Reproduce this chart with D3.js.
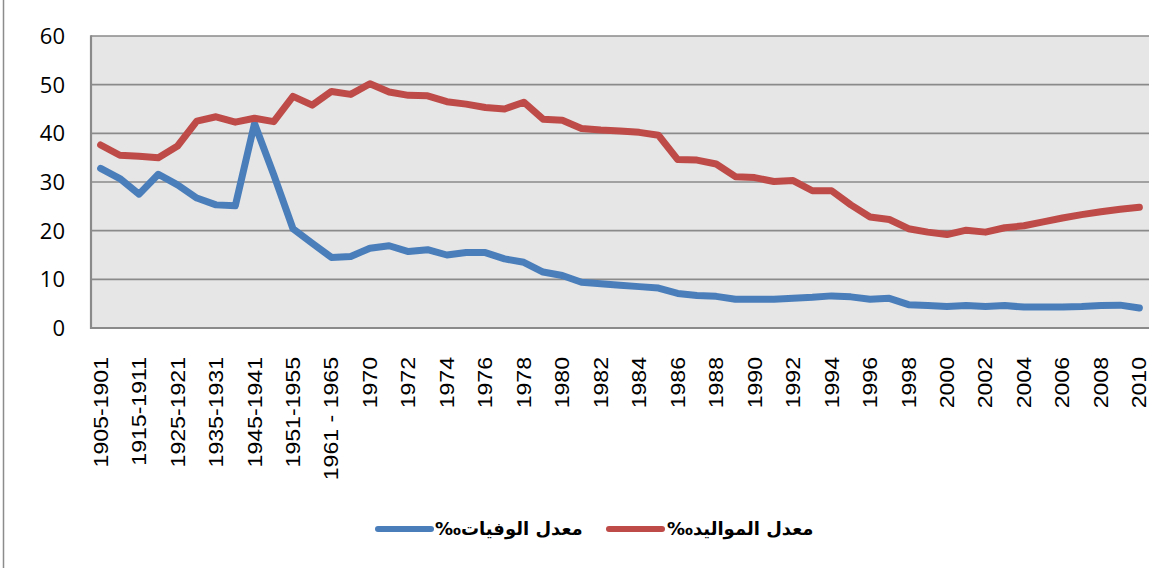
<!DOCTYPE html>
<html>
<head>
<meta charset="utf-8">
<script src="https://cdn.jsdelivr.net/npm/d3@7"></script>
<style>
  body { margin: 0; background: #fff; }
</style>
</head>
<body>
<svg id="chart" width="1161" height="568"></svg>
<script>
// categories (only every other one gets a label on the axis)
const periods = [
  "1905-1901", "1910-1906", "1915-1911", "1920-1916", "1925-1921", "1930-1926",
  "1935-1931", "1940-1936", "1945-1941", "1950-1946", "1951-1955", "1956-1960",
  "1961 - 1965", "1966-1969",
  "1970", "1971", "1972", "1973", "1974", "1975", "1976", "1977", "1978", "1979",
  "1980", "1981", "1982", "1983", "1984", "1985", "1986", "1987", "1988", "1989",
  "1990", "1991", "1992", "1993", "1994", "1995", "1996", "1997", "1998", "1999",
  "2000", "2001", "2002", "2003", "2004", "2005", "2006", "2007", "2008", "2009", "2010"
];

// birth rate (per mille)
const birthRate = [
  37.6, 35.5, 35.3, 35.0, 37.4, 42.5, 43.4, 42.3, 43.1, 42.4, 47.6, 45.8, 48.6, 48.0,
  50.2, 48.5, 47.8, 47.7, 46.5, 46.0, 45.3, 45.0, 46.4, 42.9, 42.7, 41.0, 40.7, 40.5,
  40.2, 39.6, 34.6, 34.5, 33.7, 31.1, 30.9, 30.1, 30.3, 28.2, 28.2, 25.3, 22.8, 22.3,
  20.4, 19.7, 19.2, 20.1, 19.7, 20.6, 21.0, 21.8, 22.6, 23.3, 23.9, 24.4, 24.8
];

// death rate (per mille)
const deathRate = [
  32.8, 30.7, 27.5, 31.6, 29.4, 26.7, 25.3, 25.1, 42.0, 31.5, 20.4, 17.4, 14.5, 14.7,
  16.4, 16.9, 15.7, 16.1, 15.0, 15.5, 15.5, 14.2, 13.5, 11.5, 10.8, 9.4, 9.1, 8.8,
  8.5, 8.2, 7.1, 6.7, 6.5, 5.9, 5.9, 5.9, 6.1, 6.3, 6.6, 6.4, 5.9, 6.1,
  4.8, 4.6, 4.4, 4.6, 4.4, 4.6, 4.3, 4.3, 4.3, 4.4, 4.6, 4.7, 4.1
];

const yTicks = [0, 10, 20, 30, 40, 50, 60];

const seriesNames = ["معدل الوفيات‰", "معدل المواليد‰"];
const seriesColors = ["#4a7ebb", "#be4b48"];

const svg = d3.select("#chart");
const margin = { left: 91, right: 12, top: 36, bottom: 240 };
const W = 1161, H = 568;

const x = d3.scaleBand()
  .domain(periods)
  .range([margin.left, W - margin.right]);

const y = d3.scaleLinear()
  .domain([0, 60])
  .range([H - margin.bottom, margin.top]);

// outer chart frame (only the left edge is visible)
svg.append("line")
  .attr("x1", 3.5).attr("x2", 3.5)
  .attr("y1", 0).attr("y2", H)
  .attr("stroke", "#8c8c8c")
  .attr("stroke-width", 1.5);

// plot background
svg.append("rect")
  .attr("x", x.range()[0])
  .attr("y", y(60))
  .attr("width", x.range()[1] - x.range()[0])
  .attr("height", y(0) - y(60))
  .attr("fill", "#e6e6e6");

// horizontal gridlines
svg.append("g")
  .selectAll("line")
  .data(yTicks)
  .join("line")
  .attr("x1", x.range()[0])
  .attr("x2", x.range()[1])
  .attr("y1", d => y(d))
  .attr("y2", d => y(d))
  .attr("stroke", "#8a8a8a")
  .attr("stroke-width", d => d === 0 ? 2.2 : 1.6);

// left axis line
svg.append("line")
  .attr("x1", x.range()[0]).attr("x2", x.range()[0])
  .attr("y1", y(60) - 0.8).attr("y2", y(0) + 1)
  .attr("stroke", "#8a8a8a")
  .attr("stroke-width", 2.2);

// y tick labels
svg.append("g")
  .selectAll("text")
  .data(yTicks)
  .join("text")
  .attr("x", 65)
  .attr("y", d => y(d))
  .attr("dy", "0.36em")
  .attr("text-anchor", "end")
  .style("font", "22px 'Open Sans', sans-serif")
  .attr("fill", "#000")
  .text(d => d);

// x tick labels, rotated (slightly stretched along the text like the original)
svg.append("g")
  .selectAll("text")
  .data(periods.filter((d, i) => i % 2 === 0))
  .join("text")
  .attr("transform", d => `translate(${x(d) + x.bandwidth() / 2 + 7},357) rotate(-90) scale(1.1,1)`)
  .attr("text-anchor", "end")
  .style("font", "21px 'Liberation Sans', Arial, sans-serif")
  .attr("fill", "#000")
  .text(d => d);

// lines
const line = d3.line()
  .x((d, i) => x(periods[i]) + x.bandwidth() / 2)
  .y(d => y(d));

[deathRate, birthRate].forEach((vals, k) => {
  svg.append("path")
    .datum(vals)
    .attr("fill", "none")
    .attr("stroke", seriesColors[k])
    .attr("stroke-width", 7)
    .attr("stroke-linejoin", "round")
    .attr("stroke-linecap", "round")
    .attr("d", line);
});

// legend
const legendItems = [
  { name: seriesNames[0], color: seriesColors[0], x0: 378, x1: 431, tx: 435 },
  { name: seriesNames[1], color: seriesColors[1], x0: 609, x1: 662, tx: 667 }
];
const legend = svg.append("g");
legendItems.forEach(it => {
  legend.append("line")
    .attr("x1", it.x0).attr("x2", it.x1)
    .attr("y1", 529).attr("y2", 529)
    .attr("stroke", it.color)
    .attr("stroke-width", 6)
    .attr("stroke-linecap", "round");
  legend.append("text")
    .attr("x", it.tx)
    .attr("y", 535)
    .attr("direction", "rtl")
    .attr("text-anchor", "end")
    .style("font", "bold 18px 'DejaVu Sans', sans-serif")
    .attr("fill", "#000")
    .text(it.name);
});
</script>
</body>
</html>
